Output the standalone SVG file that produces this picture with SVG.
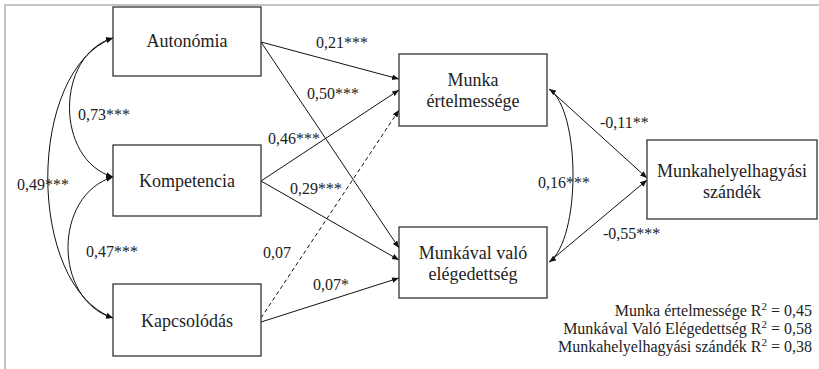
<svg xmlns="http://www.w3.org/2000/svg" width="819" height="369" viewBox="0 0 819 369">
<defs>
<style>
.box{fill:#fff;stroke:#333;stroke-width:1.3}
text{font-family:'Liberation Serif','Times New Roman','DejaVu Serif',serif;fill:#222}
.lbl{font-size:18px;text-anchor:middle}
.coef{font-size:16px}
.r2{font-size:16px;text-anchor:end}
.ln{fill:none;stroke:#111;stroke-width:1}
.dash{stroke-dasharray:4 3}
</style>
<marker id="ah" viewBox="0 0 10 10" refX="10" refY="5" markerWidth="7" markerHeight="7" markerUnits="userSpaceOnUse" orient="auto-start-reverse">
<path d="M0,1 L10,5 L0,9 Z" fill="#111"/>
</marker>
</defs>
<rect width="819" height="369" fill="#fff"/>
<path d="M5,369 V5 H819" fill="none" stroke="#c4c4c4" stroke-width="2"/>

<g id="connectors">
<line class="ln" x1="261" y1="42" x2="399" y2="79" marker-end="url(#ah)"/>
<line class="ln" x1="261" y1="42" x2="399" y2="248" marker-end="url(#ah)"/>
<line class="ln" x1="261" y1="181" x2="399" y2="90" marker-end="url(#ah)"/>
<line class="ln" x1="261" y1="181" x2="399" y2="260" marker-end="url(#ah)"/>
<line class="ln dash" x1="261" y1="318" x2="399" y2="110" marker-end="url(#ah)"/>
<line class="ln" x1="261" y1="322" x2="399" y2="278" marker-end="url(#ah)"/>
<line class="ln" x1="549" y1="89" x2="647" y2="178" marker-end="url(#ah)"/>
<line class="ln" x1="549" y1="262" x2="647" y2="180" marker-end="url(#ah)"/>
<path class="ln" d="M549,89 C581,110 581,240 549,262" marker-start="url(#ah)" marker-end="url(#ah)"/>
<path class="ln" d="M113,38 C55,55 55,160 113,177" marker-start="url(#ah)" marker-end="url(#ah)"/>
<path class="ln" d="M113,38 C26,70 26,286 113,318" marker-start="url(#ah)" marker-end="url(#ah)"/>
<path class="ln" d="M113,177 C53,195 53,300 113,318" marker-start="url(#ah)" marker-end="url(#ah)"/>
<text class="coef" x="316" y="48" font-family="Liberation Serif, serif">0,21***</text>
<text class="coef" x="307" y="99" font-family="Liberation Serif, serif">0,50***</text>
<text class="coef" x="78" y="120" font-family="Liberation Serif, serif">0,73***</text>
<text class="coef" x="268" y="144" font-family="Liberation Serif, serif">0,46***</text>
<text class="coef" x="17" y="190" font-family="Liberation Serif, serif">0,49***</text>
<text class="coef" x="290" y="194" font-family="Liberation Serif, serif">0,29***</text>
<text class="coef" x="86" y="257" font-family="Liberation Serif, serif">0,47***</text>
<text class="coef" x="263" y="258" font-family="Liberation Serif, serif">0,07</text>
<text class="coef" x="313" y="290" font-family="Liberation Serif, serif">0,07*</text>
<text class="coef" x="600" y="128" font-family="Liberation Serif, serif">-0,11**</text>
<text class="coef" x="538" y="188" font-family="Liberation Serif, serif">0,16***</text>
<text class="coef" x="603" y="239" font-family="Liberation Serif, serif">-0,55***</text>
</g>

<g id="autonomia">
<rect class="box" x="113" y="7" width="148" height="69"/>
<text class="lbl" x="187" y="47">Autonómia</text>
</g>
<g id="kompetencia">
<rect class="box" x="113" y="145" width="148" height="71"/>
<text class="lbl" x="187" y="187">Kompetencia</text>
</g>
<g id="kapcsolodas">
<rect class="box" x="113" y="284" width="148" height="72"/>
<text class="lbl" x="187" y="327">Kapcsolódás</text>
</g>
<g id="munka-ertelmessege">
<rect class="box" x="399" y="54" width="148" height="72"/>
<text class="lbl" x="473" y="86">Munka</text>
<text class="lbl" x="473" y="107">értelmessége</text>
</g>
<g id="munkaval-valo-elegedettseg">
<rect class="box" x="399" y="227" width="148" height="71"/>
<text class="lbl" x="473" y="259">Munkával való</text>
<text class="lbl" x="473" y="280">elégedettség</text>
</g>
<g id="munkahelyelhagyasi-szandek">
<rect class="box" x="647" y="140" width="170" height="79"/>
<text class="lbl" x="732" y="177">Munkahelyelhagyási</text>
<text class="lbl" x="732" y="198">szándék</text>
</g>

<g id="r2">
<text class="r2" x="812" y="316">Munka értelmessége R<tspan dy="-6" font-size="11">2</tspan><tspan dy="6"> = 0,45</tspan></text>
<text class="r2" x="812" y="334">Munkával Való Elégedettség R<tspan dy="-6" font-size="11">2</tspan><tspan dy="6"> = 0,58</tspan></text>
<text class="r2" x="812" y="352">Munkahelyelhagyási szándék R<tspan dy="-6" font-size="11">2</tspan><tspan dy="6"> = 0,38</tspan></text>
</g>
</svg>
